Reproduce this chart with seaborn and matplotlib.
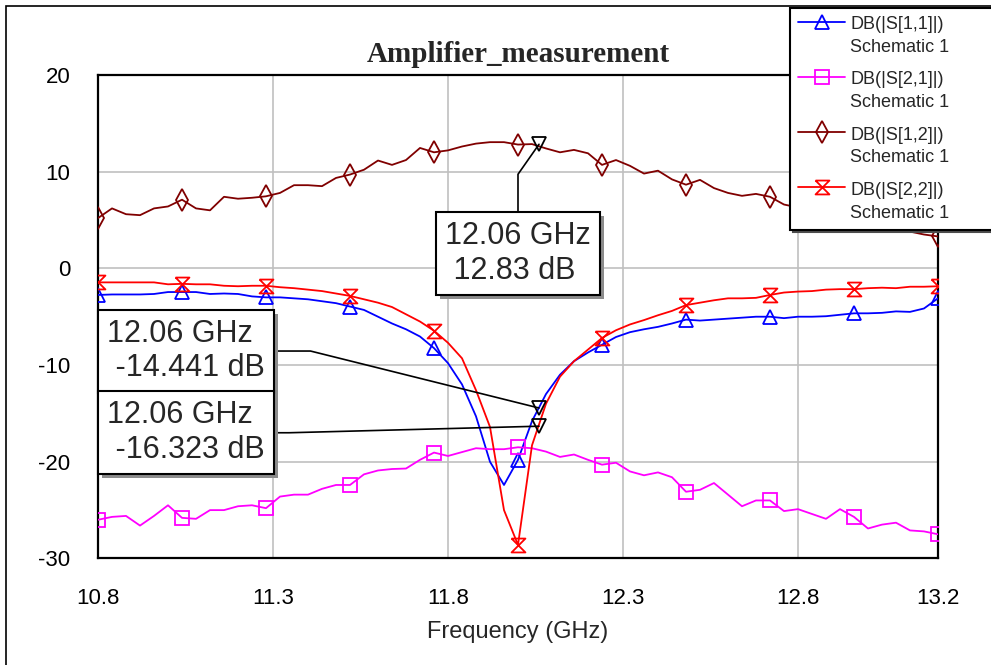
import numpy as np
import matplotlib
matplotlib.use("Agg")
import matplotlib.pyplot as plt
import matplotlib.patheffects as pe
from matplotlib.lines import Line2D
from matplotlib.patches import Rectangle
from matplotlib.legend_handler import HandlerLine2D
import seaborn as sns

# sweep 10.8 .. 13.2 GHz, 0.04 GHz step (61 points)
freq_ghz = np.linspace(10.8, 13.2, 61)

s11_db = [-2.75, -2.7, -2.7, -2.7, -2.65, -2.45, -2.45, -2.45, -2.65, -2.6,
          -2.65, -2.9, -3.0, -3.0, -3.1, -3.2, -3.4, -3.6, -3.95, -4.3,
          -5.0, -5.7, -6.3, -7.05, -8.25, -9.8, -12.0, -15.3, -20.0, -22.4,
          -19.8, -15.8, -13.0, -11.0, -9.6, -8.7, -7.9, -7.1, -6.6, -6.3,
          -6.05, -5.7, -5.3, -5.4, -5.3, -5.2, -5.1, -5.0, -5.0, -5.15,
          -5.0, -5.0, -4.95, -4.8, -4.65, -4.65, -4.6, -4.45, -4.5, -4.15,
          -3.1]
s21_db = [-26.0, -25.7, -25.6, -26.6, -25.6, -24.5, -25.8, -25.9, -25.0, -25.0,
          -24.6, -24.5, -24.8, -23.6, -23.4, -23.4, -22.8, -22.4, -22.4, -21.3,
          -20.9, -20.75, -20.7, -19.8, -19.05, -19.4, -19.0, -18.6, -18.7, -18.7,
          -18.5, -18.6, -18.95, -19.5, -19.25, -19.8, -20.3, -20.1, -21.0, -21.4,
          -21.1, -21.6, -23.1, -22.9, -22.2, -23.4, -24.6, -24.0, -24.0, -25.1,
          -24.9, -25.4, -25.9, -24.9, -25.7, -26.9, -26.5, -26.3, -27.1, -27.2,
          -27.5]
s12_db = [5.2, 6.2, 5.6, 5.5, 6.2, 6.4, 7.1, 6.2, 6.0, 7.4,
          7.2, 7.3, 7.45, 7.8, 8.6, 8.6, 8.5, 9.35, 9.7, 10.2,
          11.15, 10.7, 11.2, 12.45, 12.0, 12.2, 12.6, 12.9, 13.05, 13.05,
          12.8, 12.85, 12.4, 12.0, 12.25, 11.9, 10.7, 11.2, 10.6, 9.8,
          10.1, 9.2, 8.65, 9.15, 8.3, 7.8, 7.5, 7.7, 7.4, 6.6,
          6.3, 6.0, 5.6, 5.3, 5.0, 4.7, 4.4, 4.1, 3.8, 3.5,
          3.3]
s22_db = [-1.45, -1.45, -1.45, -1.45, -1.45, -1.65, -1.6, -1.65, -1.65, -1.8,
          -1.85, -1.8, -1.8, -1.95, -2.05, -2.2, -2.35, -2.6, -2.85, -3.2,
          -3.55, -4.0, -4.75, -5.5, -6.45, -7.7, -9.3, -12.6, -16.4, -25.0,
          -28.6, -18.3, -14.0, -11.2, -9.6, -8.4, -7.2, -6.4, -5.8, -5.35,
          -4.85, -4.4, -3.8, -3.55, -3.3, -3.1, -3.1, -3.05, -2.75, -2.5,
          -2.4, -2.35, -2.2, -2.15, -2.15, -2.05, -2.0, -2.05, -1.9, -1.9,
          -1.85]

series_names = ["DB(|S[1,1]|)", "DB(|S[2,1]|)", "DB(|S[1,2]|)", "DB(|S[2,2]|)"]
series_values = [s11_db, s21_db, s12_db, s22_db]
series_colors = ["#0000ff", "#ff00ff", "#800000", "#ff0000"]
hourglass = [(-1, 1), (1, 1), (-1, -1), (1, -1), (-1, 1)]
series_markers = ["^", "s", "d", hourglass]
series_msize = [10, 9.5, 11, 10]

# marker readouts at 12.06 GHz
mk_freq = 12.06
mk_s12 = 12.83
mk_s11 = -14.441
mk_s22 = -16.323

xticks = [10.8, 11.3, 11.8, 12.3, 12.8, 13.2]
xtick_labels = ["10.8", "11.3", "11.8", "12.3", "12.8", "13.2"]
yticks = [-30, -20, -10, 0, 10, 20]
ytick_labels = ["-30", "-20", "-10", "0", "10", "20"]

sns.set_theme(style="white")
plt.rcParams["font.family"] = ["Liberation Sans", "DejaVu Sans"]

fig = plt.figure(figsize=(9.91, 6.65), dpi=100)
ax = fig.add_axes([0.0989, 0.1602, 0.8476, 0.7271])

for name, vals, col, mk, ms in zip(series_names, series_values, series_colors,
                                   series_markers, series_msize):
    sns.lineplot(x=freq_ghz, y=vals, ax=ax, color=col, lw=1.3, estimator=None,
                 marker=mk, markersize=ms, markevery=6, markerfacecolor="none",
                 markeredgecolor=col, markeredgewidth=1.3, zorder=3)

ax.plot([mk_freq] * 3, [mk_s12, mk_s11, mk_s22], ls="none", marker="v", ms=10,
        mfc="none", mec="black", mew=1.3, zorder=4)

ax.set_xlim(10.8, 13.2)
ax.set_ylim(-30, 20)
ax.set_xticks(xticks, labels=xtick_labels)
ax.set_yticks(yticks, labels=ytick_labels)
ax.tick_params(axis="both", length=0, labelsize=16, colors="black")
ax.tick_params(axis="x", pad=21)
ax.tick_params(axis="y", pad=20)
ax.grid(True, color="#c0c0c0", lw=1.2, zorder=0)
ax.set_axisbelow(True)
for sp in ax.spines.values():
    sp.set_color("black")
    sp.set_linewidth(1.6)

ax.set_xlabel("Frequency (GHz)", fontsize=17, labelpad=9)
ax.set_ylabel("")
ax.set_title("Amplifier_measurement", fontfamily="Liberation Serif",
             fontweight="bold", fontsize=21, pad=9)

# marker readout boxes
box_kw = dict(boxstyle="square,pad=0.3", fc="white", ec="black", lw=1.5)
readouts = [
    (mk_s12, f"{mk_freq:.2f} GHz\n {mk_s12:.2f} dB", (0.5, 0.631), "angle,angleA=90,angleB=55,rad=0"),
    (mk_s11, f"{mk_freq:.2f} GHz\n {mk_s11:.3f} dB", (0.105, 0.429), "angle,angleA=0,angleB=-14,rad=0"),
    (mk_s22, f"{mk_freq:.2f} GHz\n {mk_s22:.3f} dB", (0.105, 0.260), "angle,angleA=0,angleB=1.5,rad=0"),
]
for yv, txt, pos, conn in readouts:
    ann = ax.annotate(txt, xy=(mk_freq, yv), xycoords="data", xytext=pos,
                      textcoords="axes fraction", ha="center", va="center",
                      fontsize=22, multialignment="left", bbox=box_kw, zorder=6,
                      arrowprops=dict(arrowstyle="-", color="black", lw=1.2,
                                      connectionstyle=conn, shrinkA=0, shrinkB=0))
    ann.get_bbox_patch().set_path_effects(
        [pe.SimplePatchShadow(offset=(3, -3), shadow_rgbFace="0.55", alpha=1), pe.Normal()])

# outer frame
fig.add_artist(Rectangle((6 / 991, -0.05), 1.2, 1.05 - 6 / 665, transform=fig.transFigure,
                         fill=False, ec="black", lw=1.2, zorder=1))


class FirstLineHandler(HandlerLine2D):
    # keep the legend sample on the first line of the two-line label
    def create_artists(self, legend, orig_handle, xdescent, ydescent, width, height,
                       fontsize, trans):
        arts = super().create_artists(legend, orig_handle, xdescent, ydescent, width,
                                      height, fontsize, trans)
        for a in arts:
            a.set_ydata(np.asarray(a.get_ydata()) + 0.8 * fontsize)
        return arts


handles = [Line2D([], [], color=c, lw=1.3, marker=m, ms=s, mfc="none", mec=c, mew=1.3)
           for c, m, s in zip(series_colors, series_markers, series_msize)]
labels = [n + "\nSchematic 1" for n in series_names]
leg = fig.legend(handles, labels, loc="upper left",
                 bbox_to_anchor=(790 / 991, 0, 1 - 790 / 991 + 0.01, 1 - 8 / 665),
                 mode="expand", fontsize=13, handlelength=2.6, handletextpad=0.3,
                 labelspacing=0.85, borderpad=0.45, borderaxespad=0, fancybox=False,
                 shadow={"facecolor": "0.55", "alpha": 1}, framealpha=1,
                 handler_map={Line2D: FirstLineHandler()})
for t in leg.get_texts():
    t.set_linespacing(1.45)
leg.get_frame().set_edgecolor("black")
leg.get_frame().set_linewidth(1.5)

fig.savefig("out.png", dpi=100, facecolor="white")
